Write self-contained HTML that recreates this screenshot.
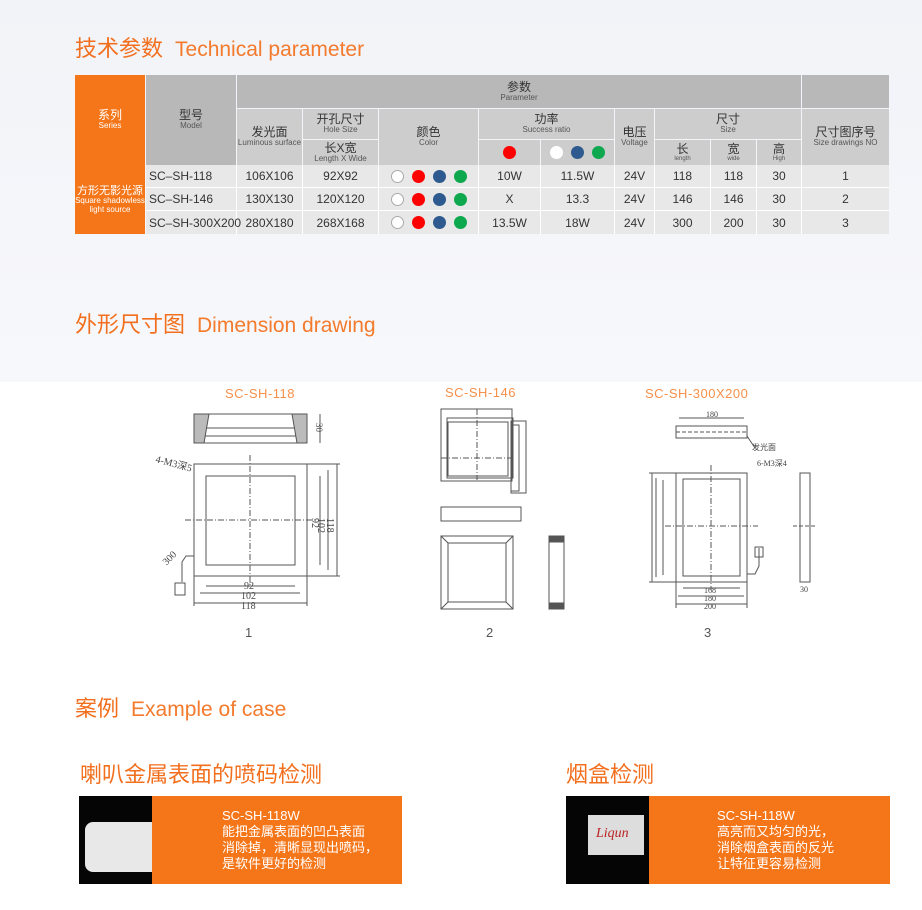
<!DOCTYPE html>
<html><head><meta charset="utf-8"><style>
*{margin:0;padding:0;box-sizing:border-box}
body{width:922px;height:910px;overflow:hidden;background:#fff;font-family:"Liberation Sans","Noto Sans CJK SC",sans-serif;position:relative}
.top{position:absolute;left:0;top:0;width:922px;height:382px;background:linear-gradient(180deg,#f1f3f8,#f5f6fa 60%,#f7f8fb)}
.a{position:absolute}
.h{position:absolute;color:#f26f1d;font-size:22px;white-space:nowrap}
.h span{font-size:21px;margin-left:12px;color:#f47a2c}
.c{position:absolute;display:flex;flex-direction:column;align-items:center;justify-content:center;text-align:center;color:#333;font-size:12px;line-height:1.1}
.c small{font-size:8px;color:#555}
.g1{background:#b8b8b8}.g2{background:#cdcdcd}
.dot{display:inline-block;width:13px;height:13px;border-radius:50%;margin:0 4px}
.w{background:#fff;border:1px solid #aaa}.r{background:#f00}.b{background:#2f5a8f}.gr{background:#0ea84f}
.d{position:absolute;display:flex;align-items:center;justify-content:center;font-size:12px;color:#333}
.lbl{position:absolute;color:#f7904a;font-size:13px;letter-spacing:.5px}
.num{position:absolute;color:#555;font-size:13px}
.case{position:absolute;color:#f26f1d;font-size:22px}
.box{position:absolute;background:#f47619;color:#fff;font-size:13px;line-height:16px;padding:12px 0 0 22px}
</style></head><body>
<div class="top"></div>
<div class="h" style="left:75px;top:31px">技术参数<span>Technical parameter</span></div>

<div class="c" style="left:75px;top:75px;width:70px;height:90px;background:#f47619;color:#fff">系列<small style="color:#fff">Series</small></div>
<div class="c" style="left:75px;top:165px;width:70px;height:69px;background:#f47619;color:#fff;font-size:11px">方形无影光源<small style="color:#fff;font-size:8px">Square shadowless<br>light source</small></div>
<div class="c g1" style="left:146px;top:75px;width:90px;height:90px">型号<small>Model</small></div>
<div class="c g1" style="left:237px;top:75px;width:564px;height:33px">参数<small>Parameter</small></div>
<div class="c g1" style="left:802px;top:75px;width:87px;height:33px"></div>
<div class="c g2" style="left:237px;top:109px;width:65px;height:56px">发光面<small>Luminous surface</small></div>
<div class="c g2" style="left:303px;top:109px;width:75px;height:30px">开孔尺寸<small>Hole Size</small></div>
<div class="c g2" style="left:303px;top:140px;width:75px;height:25px">长X宽<small>Length X Wide</small></div>
<div class="c g2" style="left:379px;top:109px;width:99px;height:56px">颜色<small>Color</small></div>
<div class="c g2" style="left:479px;top:109px;width:135px;height:30px">功率<small>Success ratio</small></div>
<div class="c g2" style="left:479px;top:140px;width:61px;height:25px"><span class="dot r"></span></div>
<div class="c g2" style="left:541px;top:140px;width:73px;height:25px;flex-direction:row"><span class="dot w" style="border:none"></span><span class="dot b"></span><span class="dot gr"></span></div>
<div class="c g2" style="left:615px;top:109px;width:39px;height:56px">电压<small>Voltage</small></div>
<div class="c g2" style="left:655px;top:109px;width:146px;height:30px">尺寸<small>Size</small></div>
<div class="c g2" style="left:655px;top:140px;width:55px;height:25px">长<small style="font-size:6px">length</small></div>
<div class="c g2" style="left:711px;top:140px;width:45px;height:25px">宽<small style="font-size:6px">wide</small></div>
<div class="c g2" style="left:757px;top:140px;width:44px;height:25px">高<small style="font-size:6px">High</small></div>
<div class="c g2" style="left:802px;top:109px;width:87px;height:56px">尺寸图序号<small>Size drawings NO</small></div>

<div class="a" style="left:146px;top:165px;width:743px;height:69px;background:#e8e8e8"></div>
<div class="a" style="left:146px;top:187px;width:743px;height:1px;background:#fff"></div>
<div class="a" style="left:146px;top:210px;width:743px;height:1px;background:#fff"></div>
<div class="a" style="left:236px;top:165px;width:1px;height:69px;background:#fff"></div>
<div class="a" style="left:302px;top:165px;width:1px;height:69px;background:#fff"></div>
<div class="a" style="left:378px;top:165px;width:1px;height:69px;background:#fff"></div>
<div class="a" style="left:478px;top:165px;width:1px;height:69px;background:#fff"></div>
<div class="a" style="left:540px;top:165px;width:1px;height:69px;background:#fff"></div>
<div class="a" style="left:614px;top:165px;width:1px;height:69px;background:#fff"></div>
<div class="a" style="left:654px;top:165px;width:1px;height:69px;background:#fff"></div>
<div class="a" style="left:710px;top:165px;width:1px;height:69px;background:#fff"></div>
<div class="a" style="left:756px;top:165px;width:1px;height:69px;background:#fff"></div>
<div class="a" style="left:801px;top:165px;width:1px;height:69px;background:#fff"></div>

<!-- row 1 -->
<div class="d" style="left:149px;top:165px;height:22px;justify-content:flex-start">SC–SH-118</div>
<div class="d" style="left:237px;top:165px;width:65px;height:22px">106X106</div>
<div class="d" style="left:303px;top:165px;width:75px;height:22px">92X92</div>
<div class="d" style="left:379px;top:165px;width:99px;height:22px"><span class="dot w"></span><span class="dot r"></span><span class="dot b"></span><span class="dot gr"></span></div>
<div class="d" style="left:479px;top:165px;width:61px;height:22px">10W</div>
<div class="d" style="left:541px;top:165px;width:73px;height:22px">11.5W</div>
<div class="d" style="left:615px;top:165px;width:39px;height:22px">24V</div>
<div class="d" style="left:655px;top:165px;width:55px;height:22px">118</div>
<div class="d" style="left:711px;top:165px;width:45px;height:22px">118</div>
<div class="d" style="left:757px;top:165px;width:44px;height:22px">30</div>
<div class="d" style="left:802px;top:165px;width:87px;height:22px">1</div>
<!-- row 2 -->
<div class="d" style="left:149px;top:188px;height:22px;justify-content:flex-start">SC–SH-146</div>
<div class="d" style="left:237px;top:188px;width:65px;height:22px">130X130</div>
<div class="d" style="left:303px;top:188px;width:75px;height:22px">120X120</div>
<div class="d" style="left:379px;top:188px;width:99px;height:22px"><span class="dot w"></span><span class="dot r"></span><span class="dot b"></span><span class="dot gr"></span></div>
<div class="d" style="left:479px;top:188px;width:61px;height:22px">X</div>
<div class="d" style="left:541px;top:188px;width:73px;height:22px">13.3</div>
<div class="d" style="left:615px;top:188px;width:39px;height:22px">24V</div>
<div class="d" style="left:655px;top:188px;width:55px;height:22px">146</div>
<div class="d" style="left:711px;top:188px;width:45px;height:22px">146</div>
<div class="d" style="left:757px;top:188px;width:44px;height:22px">30</div>
<div class="d" style="left:802px;top:188px;width:87px;height:22px">2</div>
<!-- row 3 -->
<div class="d" style="left:149px;top:211px;height:23px;justify-content:flex-start">SC–SH-300X200</div>
<div class="d" style="left:237px;top:211px;width:65px;height:23px">280X180</div>
<div class="d" style="left:303px;top:211px;width:75px;height:23px">268X168</div>
<div class="d" style="left:379px;top:211px;width:99px;height:23px"><span class="dot w"></span><span class="dot r"></span><span class="dot b"></span><span class="dot gr"></span></div>
<div class="d" style="left:479px;top:211px;width:61px;height:23px">13.5W</div>
<div class="d" style="left:541px;top:211px;width:73px;height:23px">18W</div>
<div class="d" style="left:615px;top:211px;width:39px;height:23px">24V</div>
<div class="d" style="left:655px;top:211px;width:55px;height:23px">300</div>
<div class="d" style="left:711px;top:211px;width:45px;height:23px">200</div>
<div class="d" style="left:757px;top:211px;width:44px;height:23px">30</div>
<div class="d" style="left:802px;top:211px;width:87px;height:23px">3</div>

<div class="h" style="left:75px;top:307px">外形尺寸图<span>Dimension drawing</span></div>

<div class="lbl" style="left:225px;top:386px">SC-SH-118</div>
<div class="lbl" style="left:445px;top:385px">SC-SH-146</div>
<div class="lbl" style="left:645px;top:386px">SC-SH-300X200</div>
<div class="num" style="left:245px;top:625px">1</div>
<div class="num" style="left:486px;top:625px">2</div>
<div class="num" style="left:704px;top:625px">3</div>

<svg class="a" style="left:0;top:0" width="922" height="910" fill="none" stroke="#555" stroke-width="1" font-family="Liberation Serif" font-size="9">
<rect x="194" y="414" width="113" height="29"/><line x1="194" y1="428" x2="307" y2="428"/><line x1="204" y1="436" x2="297" y2="436"/>
<path d="M194 414h15l-5 29h-10z M307 414h-15l5 29h10z" fill="#bbb"/>
<line x1="320" y1="414" x2="320" y2="443"/><text x="312" y="427" fill="#444" stroke="none" transform="rotate(90 316 427)">30</text>
<rect x="194" y="464" width="113" height="112"/><rect x="206" y="476" width="89" height="89"/>
<line x1="250" y1="455" x2="250" y2="585" stroke-dasharray="6 2 1 2"/><line x1="185" y1="520" x2="315" y2="520" stroke-dasharray="6 2 1 2"/>
<line x1="307" y1="464" x2="340" y2="464"/><line x1="307" y1="576" x2="340" y2="576"/>
<line x1="337" y1="464" x2="337" y2="576"/><line x1="328" y1="470" x2="328" y2="570"/><line x1="320" y1="476" x2="320" y2="565"/>
<g fill="#444" stroke="none" font-size="10"><text x="313" y="527" transform="rotate(90 317 522)">92</text><text x="321" y="529" transform="rotate(90 325 522)">102</text><text x="330" y="529" transform="rotate(90 334 522)">118</text>
<text x="244" y="589">92</text><text x="241" y="599">102</text><text x="241" y="609">118</text>
<text x="155" y="462" transform="rotate(15 155 462)">4-M3深5</text><text x="160" y="560" transform="rotate(-45 170 555)">300</text></g>
<line x1="206" y1="586" x2="295" y2="586"/><line x1="200" y1="593" x2="300" y2="593"/><line x1="194" y1="603" x2="307" y2="603"/>
<line x1="194" y1="576" x2="194" y2="606"/><line x1="307" y1="576" x2="307" y2="606"/>
<path d="M194 556h-8l-4 6v20"/><rect x="175" y="583" width="10" height="12"/>
<rect x="441" y="409" width="71" height="72"/><rect x="447" y="418" width="66" height="60"/><rect x="448" y="422" width="60" height="54"/>
<rect x="511" y="421" width="15" height="72"/><rect x="511" y="425" width="8" height="66"/>
<line x1="441" y1="458" x2="512" y2="458" stroke-dasharray="6 2 1 2"/><line x1="477" y1="409" x2="477" y2="480" stroke-dasharray="6 2 1 2"/>
<rect x="441" y="507" width="80" height="14"/>
<rect x="441" y="536" width="72" height="73"/><rect x="448" y="543" width="58" height="59"/><path d="M441 536l7 7M513 536l-7 7M441 609l7-7M513 609l-7-7"/>
<rect x="549" y="536" width="15" height="73"/><rect x="549" y="536" width="15" height="6" fill="#555"/><rect x="549" y="603" width="15" height="6" fill="#555"/>
<rect x="676" y="426" width="71" height="12"/><line x1="676" y1="432" x2="747" y2="432" stroke-dasharray="4 2"/>
<line x1="679" y1="418" x2="744" y2="418"/><text x="706" y="417" fill="#444" stroke="none" font-size="8">180</text>
<text x="752" y="450" fill="#444" stroke="none" font-size="8">发光面</text><path d="M747 436l8 12"/>
<rect x="676" y="473" width="71" height="109"/><rect x="683" y="479" width="57" height="97"/>
<line x1="649" y1="473" x2="676" y2="473"/><line x1="649" y1="582" x2="676" y2="582"/>
<line x1="652" y1="473" x2="652" y2="582"/><line x1="656" y1="478" x2="656" y2="577"/><line x1="663" y1="480" x2="663" y2="575"/>
<line x1="711" y1="465" x2="711" y2="590" stroke-dasharray="6 2 1 2"/><line x1="665" y1="526" x2="758" y2="526" stroke-dasharray="6 2 1 2"/>
<line x1="683" y1="588" x2="740" y2="588"/><line x1="678" y1="596" x2="744" y2="596"/><line x1="676" y1="604" x2="747" y2="604"/>
<line x1="676" y1="582" x2="676" y2="608"/><line x1="747" y1="582" x2="747" y2="608"/>
<g fill="#444" stroke="none" font-size="8"><text x="704" y="593">168</text><text x="704" y="601">180</text><text x="704" y="609">200</text><text x="757" y="466">6-M3深4</text></g>
<path d="M747 574h8l4-8v-18"/><rect x="755" y="547" width="8" height="10"/>
<rect x="800" y="473" width="10" height="109"/><line x1="793" y1="526" x2="816" y2="526" stroke-dasharray="4 2"/>
<text x="800" y="592" fill="#444" stroke="none" font-size="8">30</text>
</svg>

<div class="h" style="left:75px;top:691px">案例<span>Example of case</span></div>
<div class="case" style="left:80px;top:757px">喇叭金属表面的喷码检测</div>
<div class="case" style="left:566px;top:757px">烟盒检测</div>

<div class="a" style="left:79px;top:796px;width:73px;height:88px;background:#050505"></div>
<div class="a" style="left:85px;top:822px;width:67px;height:50px;background:#e8e8e8;border-radius:8px 0 0 8px"></div>
<div class="box" style="left:152px;top:796px;width:250px;height:88px;padding-left:70px">SC-SH-118W<br>能把金属表面的凹凸表面<br>消除掉，清晰显现出喷码，<br>是软件更好的检测</div>

<div class="a" style="left:566px;top:796px;width:83px;height:88px;background:#050505"></div>
<div class="a" style="left:588px;top:815px;width:56px;height:40px;background:#ddd"></div>
<div class="a" style="left:596px;top:826px;color:#b22;font-style:italic;font-family:'Liberation Serif';font-size:14px">Liqun</div>
<div class="box" style="left:649px;top:796px;width:241px;height:88px;padding-left:68px">SC-SH-118W<br>高亮而又均匀的光，<br>消除烟盒表面的反光<br>让特征更容易检测</div>
</body></html>
